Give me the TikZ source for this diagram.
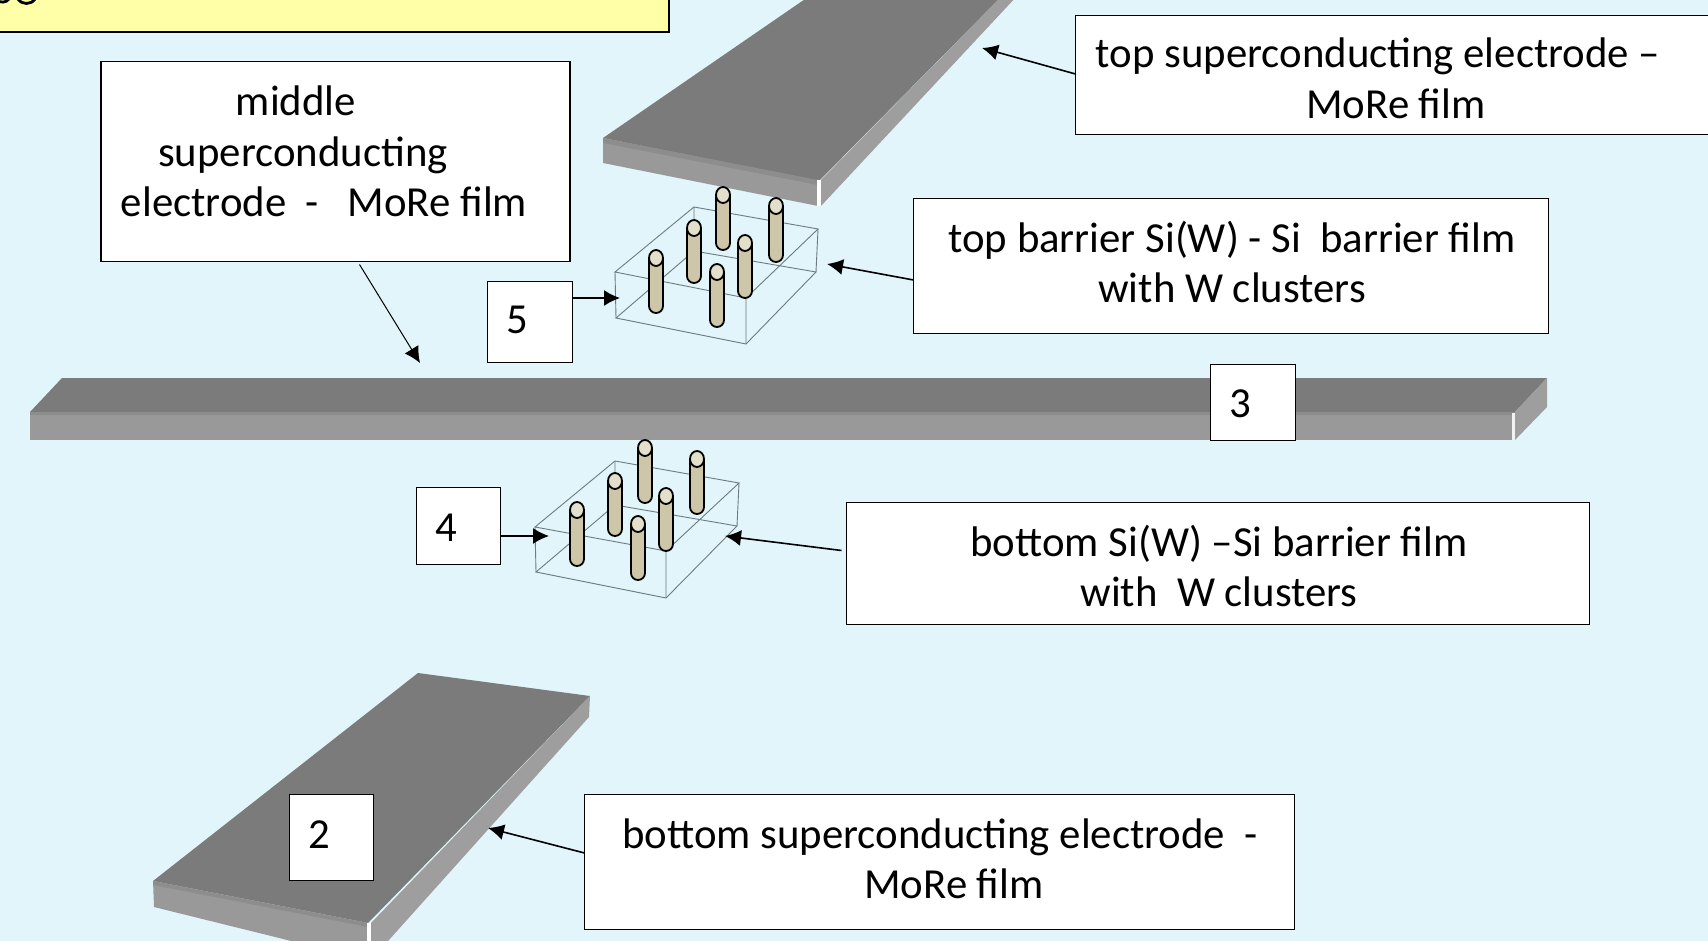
\documentclass[tikz,border=0pt]{standalone}
\usepackage{fontspec}
\setmainfont{Carlito}
\usetikzlibrary{arrows.meta}
\definecolor{bgc}{HTML}{E1F5FA}
\definecolor{yel}{HTML}{FFFFA8}
\definecolor{topg}{HTML}{7B7B7B}
\definecolor{frontg}{HTML}{999999}
\definecolor{stripg}{HTML}{8D8D8D}
\definecolor{sideg}{HTML}{9E9E9E}
\definecolor{pilc}{HTML}{CEC6A8}
\definecolor{pilt}{HTML}{E4DFCB}
\definecolor{prism}{HTML}{6E7B80}
\tikzset{
  boxn/.style={draw=black,fill=white,line width=0.85pt,inner sep=0pt,outer sep=0pt,anchor=north west,xshift=0.25pt,yshift=-0.25pt},
  lbl/.style={font=\fontsize{21.4}{21.4}\selectfont,inner sep=0pt,anchor=base,text=black},
  arr/.style={draw=black,line width=0.8pt,-{Latex[length=8pt,width=8pt]}},
  thin arr/.style={draw=black,line width=0.5pt,-{Latex[length=8pt,width=8pt]}},
  prismline/.style={draw=prism,line width=0.45pt},
}
% #1 x, #2 top y, #3 bottom y (px)
\newcommand{\pillar}[3]{%
  \draw[fill=pilc,line width=0.9pt,draw=black] (#1-7,#2) -- (#1-7,#3-7) arc[x radius=7,y radius=7,start angle=180,end angle=0] -- (#1+7,#2) -- cycle;
  \draw[fill=pilt,line width=0.9pt,draw=black] (#1,#2) ellipse[x radius=7,y radius=8];
}
\begin{document}
\begin{tikzpicture}[x=0.5pt,y=-0.5pt]
\useasboundingbox (0,0) rectangle (1708,941);
\fill[bgc] (0,0) rectangle (1708,941);
\begin{scope}
\clip (0,0) rectangle (1708,941);
% yellow header, with the cut-off remains of its text
\draw[fill=yel,draw=black,line width=0.85pt] (-10,-20) rectangle (669,32);
\draw[black,line width=1.4pt] (-3,0) .. controls (0,3) and (6,3) .. (9,-1);
\draw[black,line width=1.4pt] (18,-1) .. controls (22,5) and (31,5) .. (35,-1);
% top electrode
\fill[topg] (603,138) -- (811,-5) -- (1003,-5) -- (818,182) -- cycle;
\fill[frontg] (603,138) -- (818,181) -- (818,206) -- (603,163) -- cycle;
\fill[stripg] (603,138) -- (818,180) -- (818,185) -- (603,143) -- cycle;
\fill[sideg] (821,180) -- (1003,-5) -- (1018,-5) -- (821,206) -- cycle;
\fill[white] (817,180) rectangle (821,206);
% middle electrode
\fill[topg] (30,412) -- (62,378) -- (1547,378) -- (1515,412) -- cycle;
\fill[frontg] (30,412) rectangle (1515,440);
\fill[stripg] (30,412) rectangle (1515,415);
\fill[sideg] (1515,412) -- (1547,378) -- (1547,407) -- (1515,440) -- cycle;
\fill[white!90!gray] (1512,413) rectangle (1515,440);
% bottom electrode
\fill[topg] (153,881) -- (418,673) -- (590,696) -- (368,923) -- cycle;
\fill[frontg] (153,881) -- (368,923) -- (368,960) -- (154,907) -- cycle;
\fill[stripg] (153,881) -- (368,923) -- (368,927) -- (153,885) -- cycle;
\fill[sideg] (371,923) -- (590,696) -- (589,717) -- (371,960) -- cycle;
\fill[white] (367,923) rectangle (371,945);
\end{scope}
% top prism
\draw[prismline] (615,272) -- (694,207) -- (818,229) -- (746,298) -- cycle;
\draw[prismline] (616,318) -- (746,344) -- (816,272) -- (694,251) -- cycle;
\draw[prismline] (615,272) -- (616,318) (694,207) -- (694,251) (818,229) -- (816,272) (746,298) -- (746,344);
\pillar{723}{195}{250}
\pillar{694}{228}{283}
\pillar{776}{206}{262}
\pillar{656}{258}{313}
\pillar{745}{243}{298}
\pillar{717}{272}{327}
% bottom prism
\draw[prismline] (535,527) -- (615,461) -- (739,483) -- (666,551) -- cycle;
\draw[prismline] (536,572) -- (666,598) -- (737,526) -- (615,505) -- cycle;
\draw[prismline] (535,527) -- (536,572) (615,461) -- (615,505) (739,483) -- (737,526) (666,551) -- (666,598);
\pillar{645}{448}{503}
\pillar{615}{481}{536}
\pillar{697}{459}{514}
\pillar{577}{510}{566}
\pillar{666}{496}{551}
\pillar{638}{524}{580}
% boxes
\node[boxn,minimum width=469*0.5pt,minimum height=200*0.5pt] (midbox) at (100.5,61) {};
\node[boxn,minimum width=640*0.5pt,minimum height=119*0.5pt] (topbox) at (1075,15) {};
\node[boxn,minimum width=635*0.5pt,minimum height=135*0.5pt] (tbbox) at (913,198) {};
\node[boxn,minimum width=743*0.5pt,minimum height=122*0.5pt] (bbbox) at (846,502) {};
\node[boxn,minimum width=710*0.5pt,minimum height=135*0.5pt] (bebox) at (584,794) {};
\node[boxn,minimum width=85*0.5pt,minimum height=81*0.5pt] (b5) at (487,281) {};
\node[boxn,minimum width=85*0.5pt,minimum height=76*0.5pt] (b3) at (1210,364) {};
\node[boxn,minimum width=84*0.5pt,minimum height=77*0.5pt] (b4) at (416,487) {};
\node[boxn,minimum width=84*0.5pt,minimum height=86*0.5pt] (b2) at (289,794) {};
% free ends
\coordinate (t5) at (620,298);
\coordinate (t4) at (549,536);
\coordinate (tm) at (420,363);
\coordinate (tt) at (982,48);
\coordinate (ttb) at (827,264);
\coordinate (tbb) at (725,536);
\coordinate (tbe) at (488,828);
\draw[arr] (b5.east |- t5) -- (t5);
\draw[arr] (b4.east |- t4) -- (t4);
\draw[thin arr] ([shift={(24,3)}]midbox.south) -- (tm);
\draw[arr] ([shift={(0,-1)}]topbox.west) -- (tt);
\draw[arr] ([shift={(0,14)}]tbbox.west) -- (ttb);
\draw[arr] ([shift={(-5,-13)}]bbbox.west) -- (tbb);
\draw[arr] ([shift={(0,-9)}]bebox.west) -- (tbe);
% texts
\node[lbl] (l1a) at (1378,68) {top superconducting electrode –};
\node[lbl] (l1b) at (1396,119) {MoRe film};
\node[lbl] (l2a) at (296,116) {middle};
\node[lbl] (l2b) at (303,167) {superconducting};
\node[lbl] (l2c) at (324,217) {electrode \ -\ \ \ MoRe film};
\node[lbl] (l3a) at (1232,253) {top barrier Si(W) - Si \ barrier film};
\node[lbl] (l3b) at (1232,303) {with W clusters};
\node[lbl] (l4a) at (1219,556) {bottom Si(W) –Si barrier film};
\node[lbl] (l4b) at (1219,606) {with \ W clusters};
\node[lbl] (l5a) at (940,848) {bottom superconducting electrode \ -};
\node[lbl] (l5b) at (954,898) {MoRe film};
\node[lbl] (n5) at (517,334) {5};
\node[lbl] (n3) at (1240,417) {3};
\node[lbl] (n4) at (446,541) {4};
\node[lbl] (n2) at (319,848) {2};
\end{tikzpicture}
\end{document}
